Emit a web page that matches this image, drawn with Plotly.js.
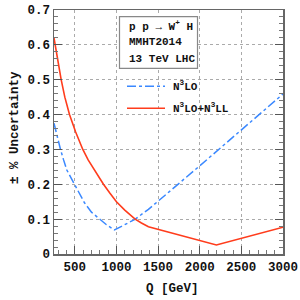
<!DOCTYPE html>
<html>
<head>
<meta charset="utf-8">
<script src="https://cdn.plot.ly/plotly-3.0.1.min.js"></script>
<style>html,body{margin:0;padding:0;background:#fff;}#chart{width:300px;height:300px;}</style>
</head>
<body>
<div id="chart"></div>
<script>
// N3LO (blue dash-dot)
const qN3LO = [250, 290, 328, 365, 404, 496, 550, 616, 700, 796, 880, 976, 1100, 1216, 1384, 2000, 3000];
const uN3LO = [0.375, 0.335, 0.30, 0.27, 0.241, 0.20, 0.175, 0.147, 0.12, 0.10, 0.084, 0.069, 0.084, 0.0985, 0.128, 0.253, 0.459];
// N3LO+N3LL (red solid)
const qN3LL = [250, 290, 336, 380, 436, 510, 596, 660, 736, 844, 920, 1000, 1100, 1224, 1300, 1384, 2200, 3000];
const uN3LL = [0.62, 0.56, 0.50, 0.45, 0.40, 0.35, 0.30, 0.27, 0.241, 0.20, 0.175, 0.150, 0.126, 0.100, 0.089, 0.078, 0.026, 0.077];
const xTicks = [500, 1000, 1500, 2000, 2500, 3000];
const yTicks = [0, 0.1, 0.2, 0.3, 0.4, 0.5, 0.6, 0.7];
const yTickText = ["0", "0.1", "0.2", "0.3", "0.4", "0.5", "0.6", "0.7"];
const infoLines = ["p p \u2192 W<sup>+</sup> H", "MMHT2014", "13 TeV LHC"];
const legendNames = ["N<sup>3</sup>LO", "N<sup>3</sup>LO+N<sup>3</sup>LL"];
const colBlue = "#3a88ff", colRed = "#ff3c1c";

const mono = "Liberation Mono, DejaVu Sans Mono, monospace";
const traces = [
  {x: qN3LO, y: uN3LO, mode: "lines", line: {color: colBlue, width: 1.5, dash: "dashdot"}, name: legendNames[0], hoverinfo: "skip"},
  {x: qN3LL, y: uN3LL, mode: "lines", line: {color: colRed, width: 1.6}, name: legendNames[1], hoverinfo: "skip"}
];

const L = 54, R = 283, T = 10, B = 254, W = R - L, H = B - T;
const px = v => (v - L) / W;
const py = v => (B - v) / H;

const annotations = [];
const infoY = [25.7, 42.3, 59];
infoLines.forEach((t, i) => annotations.push({
  text: t, xref: "paper", yref: "paper", x: px(127), y: py(infoY[i]), xanchor: "left", yanchor: "middle",
  showarrow: false, font: {family: mono, size: 11, color: "#111", weight: "bold"}
}));
const legY = [86.3, 108.3];
legendNames.forEach((t, i) => annotations.push({
  text: t, xref: "paper", yref: "paper", x: px(171), y: py(legY[i]), xanchor: "left", yanchor: "middle",
  showarrow: false, font: {family: mono, size: 11, color: "#111", weight: "bold"}
}));
annotations.push({
  text: "\u00b1 % Uncertainty", xref: "paper", yref: "paper", x: px(15), y: py(128), textangle: -90,
  xanchor: "center", yanchor: "middle", showarrow: false, font: {family: mono, size: 12.5, color: "#111", weight: "bold"}
});
annotations.push({
  text: "Q [GeV]", xref: "paper", yref: "paper", x: px(172), y: py(289),
  xanchor: "center", yanchor: "middle", showarrow: false, font: {family: mono, size: 12.5, color: "#111", weight: "bold"}
});

const shapes = [
  {type: "rect", xref: "paper", yref: "paper", x0: px(119.5), x1: px(197.5), y0: py(68.3), y1: py(16.7),
   line: {color: "#888", width: 1.2}, fillcolor: "rgba(255,255,255,1)", layer: "above"},
  {type: "line", xref: "paper", yref: "paper", x0: px(127), x1: px(165), y0: py(legY[0]), y1: py(legY[0]),
   line: {color: colBlue, width: 1.5, dash: "dashdot"}},
  {type: "line", xref: "paper", yref: "paper", x0: px(127), x1: px(165), y0: py(legY[1]), y1: py(legY[1]),
   line: {color: colRed, width: 1.6}}
];

const layout = {
  width: 300, height: 300,
  margin: {l: L, r: 300 - R, t: T, b: 300 - B, pad: 0},
  paper_bgcolor: "#fff", plot_bgcolor: "#fff",
  showlegend: false,
  xaxis: {
    range: [250, 3000], tickvals: xTicks, ticks: "inside", ticklen: 8, tickwidth: 1, tickcolor: "#555",
    showline: true, linecolor: "#666", linewidth: 1.5, mirror: true,
    showgrid: true, gridcolor: "#aaa", griddash: "dot", gridwidth: 1, zeroline: false,
    tickfont: {family: mono, size: 12.5, color: "#111", weight: "bold"},
    minor: {dtick: 100, ticks: "inside", ticklen: 4, tickcolor: "#777", showgrid: false}
  },
  yaxis: {
    range: [0, 0.7], tickvals: yTicks, ticktext: yTickText, ticks: "inside", ticklen: 8, tickwidth: 1, tickcolor: "#555",
    showline: true, linecolor: "#666", linewidth: 1.5, mirror: "ticks",
    showgrid: true, gridcolor: "#aaa", griddash: "dot", gridwidth: 1, zeroline: false,
    tickfont: {family: mono, size: 12.5, color: "#111", weight: "bold"},
    minor: {dtick: 0.02, ticks: "inside", ticklen: 4, tickcolor: "#777", showgrid: false}
  },
  annotations: annotations,
  shapes: shapes
};
Plotly.newPlot("chart", traces, layout, {staticPlot: true, displayModeBar: false});
</script>
</body>
</html>
